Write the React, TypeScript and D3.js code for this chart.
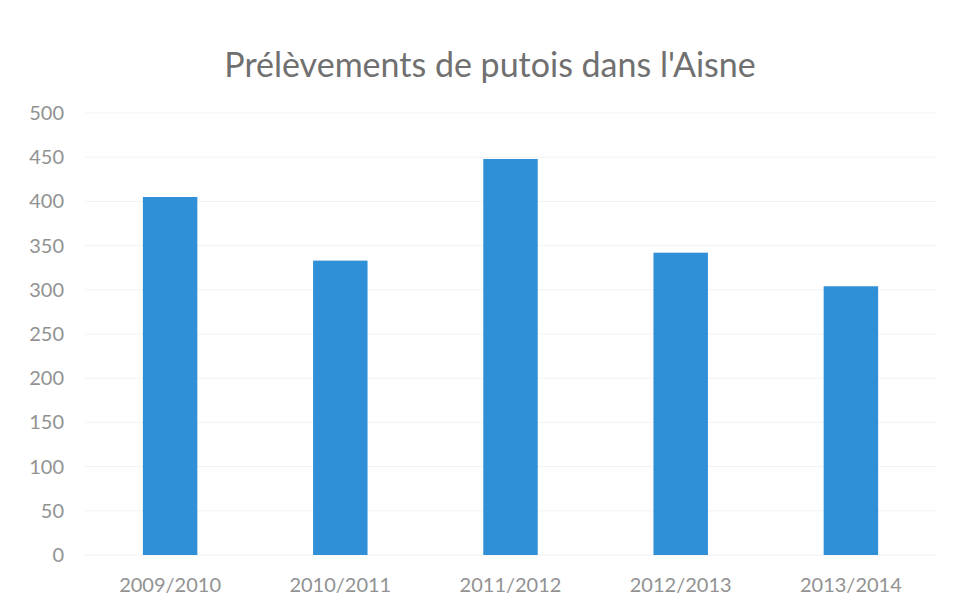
import React from "react";
import * as d3 from "d3";

const categories = ["2009/2010", "2010/2011", "2011/2012", "2012/2013", "2013/2014"];
const values = [405, 333, 448, 342, 304];
const yTicks = [0, 50, 100, 150, 200, 250, 300, 350, 400, 450, 500];
const title = "Prélèvements de putois dans l'Aisne";

export default function App() {
  const W = 957, H = 614;
  const x = d3.scaleBand<string>().domain(categories).range([85, 936]).paddingInner(0.68).paddingOuter(0.34);
  const y = d3.scaleLinear().domain([0, 500]).range([555, 113]);
  const font = "Lato, 'Open Sans', sans-serif";
  return (
    <svg width={W} height={H} style={{ position: "absolute", left: 0, top: 0, background: "#fff" }}>
      <rect x={0} y={0} width={W} height={H} fill="#fff" />
      <text x={490} y={77} textAnchor="middle" fontFamily={font} fontSize={34} fill="#707070">{title}</text>
      {yTicks.map((t) => (
        <g key={t}>
          <line x1={85} x2={936} y1={y(t)} y2={y(t)} stroke="#f2f2f2" strokeWidth={1} />
          <text x={64} y={y(t)} dy="0.35em" textAnchor="end" fontFamily={font} fontSize={20} fill="#929292">{t}</text>
        </g>
      ))}
      {categories.map((c, i) => (
        <g key={c}>
          <rect x={x(c)} y={y(values[i])} width={x.bandwidth()} height={y(0) - y(values[i])} fill="#2f8fd7" />
          <text x={(x(c) as number) + x.bandwidth() / 2} y={585} dy="0.35em" textAnchor="middle" fontFamily={font} fontSize={20} fill="#929292">{c}</text>
        </g>
      ))}
    </svg>
  );
}
